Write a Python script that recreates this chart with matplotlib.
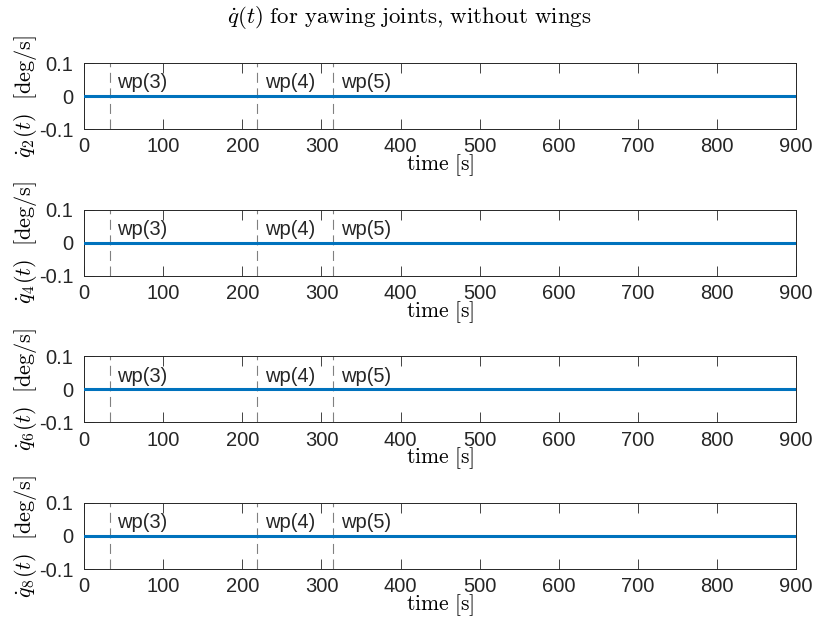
import matplotlib
matplotlib.use("Agg")
import matplotlib.pyplot as plt
import numpy as np

plt.rcParams['mathtext.fontset'] = 'cm'
plt.rcParams['font.family'] = ['Liberation Sans', 'DejaVu Sans']

# time samples and joint rates (all zero without wings)
t = np.array([0, 100, 200, 300, 400, 500, 600, 700, 800, 900])
qdot = {
    2: np.zeros(len(t)),
    4: np.zeros(len(t)),
    6: np.zeros(len(t)),
    8: np.zeros(len(t)),
}
# waypoint times and their labels
wp_times = [32, 219, 315]
wp_labels = ['wp(3)', 'wp(4)', 'wp(5)']

x_ticks = np.arange(0, 901, 100)
y_ticks = [-0.1, 0, 0.1]
y_ticklabels = ['-0.1', '0', '0.1']

fig, axes = plt.subplots(4, 1, figsize=(8.18, 6.39), dpi=100)
fig.subplots_adjust(left=0.103, right=0.973, top=0.9014, bottom=0.1095, hspace=1.22)

for ax, (j, q) in zip(axes, qdot.items()):
    ax.plot(t, q, color='#0072BD', linewidth=2.2, zorder=3)
    for tw, lab in zip(wp_times, wp_labels):
        ax.axvline(tw, color='#808080', linewidth=0.8, linestyle=(0, (9, 5)), zorder=2)
        ax.text(tw + 10, 0.04, lab, fontsize=14.5, color='#262626', va='center', ha='left')
    ax.set_xlim(0, 900)
    ax.set_ylim(-0.1, 0.1)
    ax.set_xticks(x_ticks)
    ax.set_yticks(y_ticks)
    ax.set_yticklabels(y_ticklabels)
    ax.tick_params(direction='in', top=True, right=True, labelsize=14.5,
                   colors='#262626', length=7, width=0.6)
    ax.tick_params(axis='x', pad=6)
    ax.tick_params(axis='y', pad=8)
    for s in ax.spines.values():
        s.set_color('#262626')
        s.set_linewidth(0.7)
    ax.set_xlabel(r'$\mathrm{time\ [s]}$', fontsize=15.5, labelpad=-3)
    ax.set_ylabel(r'$\dot{q}_%d(t)\ \ \mathrm{[deg/s]}$' % j, fontsize=16, labelpad=0)

fig.suptitle(r'$\dot{q}(t)\ \mathrm{for\ yawing\ joints{,}\ without\ wings}$',
             fontsize=16.5, y=0.993)

fig.savefig('out.png', dpi=100)
